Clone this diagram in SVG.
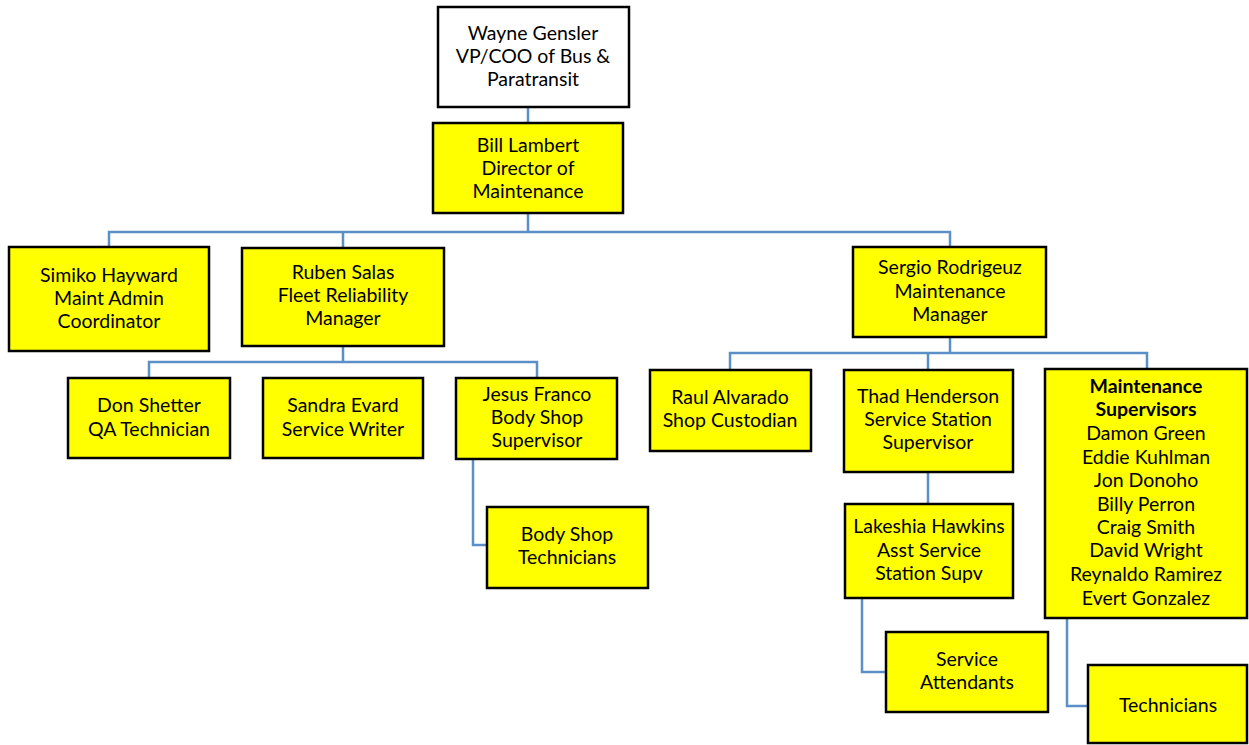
<svg xmlns="http://www.w3.org/2000/svg" width="1249" height="745" viewBox="0 0 1249 745">
  <style>
    .box { fill: #ffff00; stroke: #000; stroke-width: 2.5; }
    .top { fill: #ffffff; stroke: #000; stroke-width: 2.5; }
    .lbl { font-family: Lato, "Liberation Sans", sans-serif; font-size: 19.5px; fill: #000; text-anchor: middle; }
    .b { font-weight: bold; }
    .wire { fill: none; stroke: #5b8fc8; stroke-width: 2.5; }
  </style>
  <rect width="1249" height="745" fill="#ffffff"/>

  <g id="connectors">
    <path class="wire" d="M528 107 V123"/>
    <path class="wire" d="M528 213 V232"/>
    <path class="wire" d="M109 247 V232 H950 V247"/>
    <path class="wire" d="M343 232 V248"/>
    <path class="wire" d="M343 346 V362"/>
    <path class="wire" d="M149 378 V362 H537 V378"/>
    <path class="wire" d="M473 459 V545 H487"/>
    <path class="wire" d="M950 337 V353"/>
    <path class="wire" d="M730 370 V353 H1147 V369"/>
    <path class="wire" d="M928 353 V370"/>
    <path class="wire" d="M928 472 V504"/>
    <path class="wire" d="M862 598 V672 H886"/>
    <path class="wire" d="M1067 618 V706 H1088"/>
  </g>

  <g id="wayne">
    <rect class="top" x="438" y="7" width="191" height="100"/>
    <text class="lbl" x="533" y="40">Wayne Gensler</text>
    <text class="lbl" x="533" y="63">VP/COO of Bus &amp;</text>
    <text class="lbl" x="533" y="86">Paratransit</text>
  </g>

  <g id="bill">
    <rect class="box" x="433" y="123" width="190" height="90"/>
    <text class="lbl" x="528" y="152">Bill Lambert</text>
    <text class="lbl" x="528" y="175">Director of</text>
    <text class="lbl" x="528" y="198">Maintenance</text>
  </g>

  <g id="simiko">
    <rect class="box" x="9" y="247" width="200" height="104"/>
    <text class="lbl" x="109" y="282">Simiko Hayward</text>
    <text class="lbl" x="109" y="305">Maint Admin</text>
    <text class="lbl" x="109" y="328">Coordinator</text>
  </g>

  <g id="ruben">
    <rect class="box" x="242" y="248" width="202" height="98"/>
    <text class="lbl" x="343" y="279">Ruben Salas</text>
    <text class="lbl" x="343" y="302">Fleet Reliability</text>
    <text class="lbl" x="343" y="325">Manager</text>
  </g>

  <g id="sergio">
    <rect class="box" x="853" y="247" width="193" height="90"/>
    <text class="lbl" x="950" y="274">Sergio Rodrigeuz</text>
    <text class="lbl" x="950" y="298">Maintenance</text>
    <text class="lbl" x="950" y="321">Manager</text>
  </g>

  <g id="don">
    <rect class="box" x="68" y="378" width="162" height="80"/>
    <text class="lbl" x="149" y="412">Don Shetter</text>
    <text class="lbl" x="149" y="436">QA Technician</text>
  </g>

  <g id="sandra">
    <rect class="box" x="263" y="378" width="160" height="80"/>
    <text class="lbl" x="343" y="412">Sandra Evard</text>
    <text class="lbl" x="343" y="436">Service Writer</text>
  </g>

  <g id="jesus">
    <rect class="box" x="456" y="378" width="161" height="81"/>
    <text class="lbl" x="537" y="401">Jesus Franco</text>
    <text class="lbl" x="537" y="424">Body Shop</text>
    <text class="lbl" x="537" y="447">Supervisor</text>
  </g>

  <g id="body-shop-techs">
    <rect class="box" x="487" y="507" width="161" height="81"/>
    <text class="lbl" x="567" y="541">Body Shop</text>
    <text class="lbl" x="567" y="564">Technicians</text>
  </g>

  <g id="raul">
    <rect class="box" x="650" y="370" width="161" height="81"/>
    <text class="lbl" x="730" y="404">Raul Alvarado</text>
    <text class="lbl" x="730" y="427">Shop Custodian</text>
  </g>

  <g id="thad">
    <rect class="box" x="844" y="370" width="169" height="102"/>
    <text class="lbl" x="928" y="403">Thad Henderson</text>
    <text class="lbl" x="928" y="426">Service Station</text>
    <text class="lbl" x="928" y="449">Supervisor</text>
  </g>

  <g id="lakeshia">
    <rect class="box" x="845" y="504" width="168" height="94"/>
    <text class="lbl" x="929" y="533">Lakeshia Hawkins</text>
    <text class="lbl" x="929" y="557">Asst Service</text>
    <text class="lbl" x="929" y="580">Station Supv</text>
  </g>

  <g id="service-attendants">
    <rect class="box" x="886" y="632" width="162" height="80"/>
    <text class="lbl" x="967" y="666">Service</text>
    <text class="lbl" x="967" y="689">Attendants</text>
  </g>

  <g id="maint-supervisors">
    <rect class="box" x="1045" y="369" width="202" height="249"/>
    <text class="lbl b" x="1146" y="393">Maintenance</text>
    <text class="lbl b" x="1146" y="416">Supervisors</text>
    <text class="lbl" x="1146" y="440">Damon Green</text>
    <text class="lbl" x="1146" y="464">Eddie Kuhlman</text>
    <text class="lbl" x="1146" y="487">Jon Donoho</text>
    <text class="lbl" x="1146" y="511">Billy Perron</text>
    <text class="lbl" x="1146" y="534">Craig Smith</text>
    <text class="lbl" x="1146" y="557">David Wright</text>
    <text class="lbl" x="1146" y="581">Reynaldo Ramirez</text>
    <text class="lbl" x="1146" y="605">Evert Gonzalez</text>
  </g>

  <g id="technicians">
    <rect class="box" x="1088" y="665" width="159" height="78"/>
    <text class="lbl" x="1168" y="712">Technicians</text>
  </g>
</svg>
